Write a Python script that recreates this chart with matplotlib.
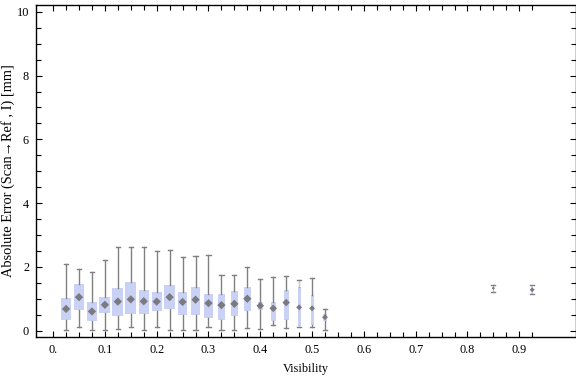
import numpy as np
import matplotlib.pyplot as plt
from matplotlib.ticker import MultipleLocator, FixedLocator

plt.rcParams['font.family'] = ['Liberation Serif', 'DejaVu Serif']

# visibility bins (box centres)
vis = [0.025, 0.05, 0.075, 0.1, 0.125, 0.15, 0.175, 0.2, 0.225, 0.25, 0.275,
       0.3, 0.325, 0.35, 0.375, 0.4, 0.425, 0.45, 0.475, 0.5, 0.525, 0.85, 0.925]
whislo = [0.02, 0.11, 0.02, 0.02, 0.04, 0.11, 0.02, 0.11, 0.02, 0.02, 0.02,
          0.11, 0.02, 0.02, 0.07, 0.05, 0.17, 0.07, 0.12, 0.11, 0.02, 1.20, 1.14]
q1 = [0.34, 0.66, 0.31, 0.55, 0.47, 0.53, 0.53, 0.60, 0.69, 0.50, 0.50,
      0.41, 0.34, 0.47, 0.63, 0.66, 0.31, 0.34, 0.14, 0.19, 0.31, 1.28, 1.16]
med = [0.68, 1.05, 0.60, 0.81, 0.91, 0.98, 0.92, 0.91, 1.05, 0.90, 0.97,
       0.86, 0.80, 0.84, 1.00, 0.78, 0.70, 0.88, 0.73, 0.70, 0.42, 1.33, 1.28]
q3 = [1.02, 1.46, 0.90, 1.06, 1.34, 1.53, 1.28, 1.21, 1.43, 1.21, 1.37,
      1.15, 1.15, 1.24, 1.37, 0.90, 0.90, 1.28, 1.37, 1.12, 0.52, 1.37, 1.42]
whishi = [2.08, 1.94, 1.85, 2.21, 2.61, 2.61, 2.61, 2.49, 2.52, 2.30, 2.33,
          2.36, 1.74, 1.74, 1.99, 1.61, 1.67, 1.71, 1.60, 1.64, 0.67, 1.43, 1.43]
# box widths (in visibility units), narrower where fewer samples
box_w = [0.021, 0.021, 0.021, 0.021, 0.021, 0.021, 0.020, 0.020, 0.021, 0.018, 0.016,
         0.016, 0.012, 0.013, 0.013, 0.010, 0.010, 0.010, 0.006, 0.006, 0.006, 0.002, 0.004]

stats = []
for i in range(len(vis)):
    stats.append(dict(whislo=whislo[i], q1=q1[i], med=med[i], q3=q3[i],
                      whishi=whishi[i], fliers=[]))

fig = plt.figure(figsize=(5.76, 3.77), dpi=100)
ax = fig.add_axes([0.0625, 0.107, 0.937, 0.881])

gray = '#808080'
bp = ax.bxp(stats, positions=vis, widths=box_w, patch_artist=True,
            capwidths=0.008, manage_ticks=False,
            boxprops=dict(facecolor='#c9d1f5', edgecolor='none'),
            whiskerprops=dict(color=gray, linewidth=1.0),
            capprops=dict(color=gray, linewidth=1.0),
            medianprops=dict(linewidth=0))
for b in bp['boxes']:
    b.set_zorder(1)
for w in bp['whiskers'] + bp['caps']:
    w.set_zorder(2)
# faded bins
for i in (18, 21):
    for art in (bp['whiskers'][2*i], bp['whiskers'][2*i+1]):
        art.set_alpha(0.45)

# median diamonds, shrinking with the box width
msize = [min(1.0, w / 0.012) * 18 for w in box_w]
ax.scatter(vis, med, s=msize, marker='D', color='#7a7a80', linewidths=0, zorder=3)

ax.set_xlim(-0.033, 1.009)
ax.set_ylim(-0.19, 10.23)

ax.xaxis.set_major_locator(FixedLocator(np.arange(0, 0.95, 0.1)))
ax.xaxis.set_minor_locator(FixedLocator(np.arange(0, 0.94, 0.025)))
ax.set_xticklabels(['0.'] + ['%.1f' % t for t in np.arange(0.1, 0.95, 0.1)])
ax.yaxis.set_major_locator(MultipleLocator(2))
ax.yaxis.set_minor_locator(MultipleLocator(0.5))

ax.tick_params(which='both', direction='in', top=True, right=True,
               labelsize=8.8, width=0.8)
ax.tick_params(which='major', length=4, pad=5)
ax.tick_params(which='minor', length=3.5)
for s in ax.spines.values():
    s.set_linewidth(1.0)

ax.set_xlabel('Visibility', fontsize=8.8, labelpad=5)
ax.set_ylabel('Absolute Error (Scan\u2192Ref , I) [mm]', fontsize=10.4)
ax.yaxis.set_label_coords(-0.039, 0.5)

fig.savefig('out.png', dpi=100)
